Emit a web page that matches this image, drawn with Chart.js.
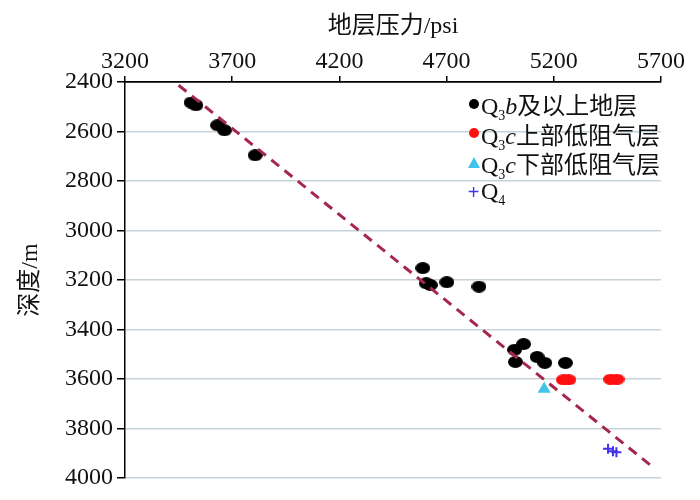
<!DOCTYPE html>
<html>
<head>
<meta charset="utf-8">
<title>地层压力与深度</title>
<script src="https://cdn.jsdelivr.net/npm/chart.js@4.4.0/dist/chart.umd.min.js"></script>
<style>
  html, body { margin: 0; padding: 0; background: #fff; }
  #wrap { position: relative; width: 700px; height: 500px; }
  #legend {
    position: absolute; left: 466px; top: 89px;
    font-family: 'Liberation Serif', 'Noto Sans CJK SC', serif;
    font-size: 24px; color: #111;
  }
  #legend .row { height: 29.4px; display: flex; align-items: center; white-space: nowrap; }
  #legend sub { font-size: 14px; vertical-align: -6px; line-height: 0; }
  #legend .mk { width: 15px; display: flex; justify-content: center; align-items: center; }
  .dot { width: 10px; height: 10px; border-radius: 50%; }
  .tri { width: 0; height: 0; border-left: 6.5px solid transparent; border-right: 6.5px solid transparent; border-bottom: 11px solid #40c4ea; }
  .plus { font-family: 'Liberation Sans', sans-serif; font-size: 20px; color: #4433ee; line-height: 1; }
</style>
</head>
<body>
<div id="wrap">
  <canvas id="pressureChart"></canvas>
  <div id="legend"></div>
</div>
<script>
// 地层压力 (psi) / 深度 (m)
const q3bPressure = [3508, 3531, 3632, 3664, 3807, 4589, 4605, 4624, 4701, 4851, 5017, 5059, 5021, 5122, 5158, 5254];
const q3bDepth    = [2483, 2494, 2575, 2595, 2696, 3152, 3213, 3220, 3209, 3227, 3482, 3459, 3531, 3511, 3535, 3535];
const q3cUpPressure = [5245, 5270, 5465, 5495];
const q3cUpDepth    = [3603, 3603, 3601, 3601];
const q3cLowPressure = [5155];
const q3cLowDepth    = [3640];
const q4Pressure = [5453, 5476, 5492];
const q4Depth    = [3882, 3892, 3896];
const trendPressure = [3450, 5665];
const trendDepth    = [2413, 3958];

const xTicks = [3200, 3700, 4200, 4700, 5200, 5700];
const yTicks = [2400, 2600, 2800, 3000, 3200, 3400, 3600, 3800, 4000];

const seriesNames = ['Q3b及以上地层', 'Q3c上部低阻气层', 'Q3c下部低阻气层', 'Q4'];
const legendHtml = ['Q<sub>3</sub><i>b</i>及以上地层', 'Q<sub>3</sub><i>c</i>上部低阻气层', 'Q<sub>3</sub><i>c</i>下部低阻气层', 'Q<sub>4</sub>'];

const pts = (xs, ys) => xs.map((x, i) => ({ x: x, y: ys[i] }));

// elliptical blobs like in the original figure
function blob(color, w, h) {
    const c = document.createElement('canvas');
    c.width = w; c.height = h;
    const g = c.getContext('2d');
    g.fillStyle = color;
    g.beginPath();
    g.ellipse(w / 2, h / 2, w / 2, h / 2, 0, 0, Math.PI * 2);
    g.fill();
    return c;
}

const tickFont = { family: "'Liberation Serif', 'Noto Sans CJK SC'", size: 24 };

const ctx = document.getElementById('pressureChart').getContext('2d');
const pressureChart = new Chart(ctx, {
    type: 'scatter',
    data: {
        datasets: [{
            label: '趋势线',
            data: pts(trendPressure, trendDepth),
            showLine: true,
            borderColor: '#a5274b',
            borderWidth: 3,
            borderDash: [10, 7],
            pointRadius: 0,
            order: -1
        }, {
            label: seriesNames[0],
            data: pts(q3bPressure, q3bDepth),
            pointStyle: blob('#000', 15, 12),
            backgroundColor: '#000'
        }, {
            label: seriesNames[1],
            data: pts(q3cUpPressure, q3cUpDepth),
            pointStyle: blob('#ff1010', 15, 11),
            backgroundColor: '#ff1010'
        }, {
            label: seriesNames[2],
            data: pts(q3cLowPressure, q3cLowDepth),
            pointStyle: 'triangle',
            pointRadius: 7.5,
            backgroundColor: '#40c4ea',
            borderWidth: 0
        }, {
            label: seriesNames[3],
            data: pts(q4Pressure, q4Depth),
            pointStyle: 'cross',
            pointRadius: 5,
            borderColor: '#4433ee',
            borderWidth: 2
        }]
    },
    options: {
        responsive: true,
        maintainAspectRatio: false,
        animation: false,
        layout: { padding: { left: 0, right: 39, top: 0, bottom: 22 } },
        scales: {
            x: {
                type: 'linear',
                position: 'top',
                min: 3200,
                max: 5700,
                afterBuildTicks: s => { s.ticks = xTicks.map(v => ({ value: v })); },
                afterFit: s => { s.height = 82; },
                ticks: { color: '#111', font: tickFont, padding: 0, maxRotation: 0, callback: v => String(v) },
                grid: { drawOnChartArea: false, color: '#000', tickLength: 6, lineWidth: 1.5 },
                border: { color: '#000', width: 1.5 },
                title: {
                    display: true,
                    text: '地层压力/psi',
                    color: '#111',
                    font: tickFont,
                    padding: { top: 12, bottom: 0 }
                }
            },
            y: {
                type: 'linear',
                reverse: true,
                min: 2400,
                max: 4000,
                afterBuildTicks: s => { s.ticks = yTicks.map(v => ({ value: v })); },
                afterFit: s => { s.width = 125; },
                ticks: { color: '#111', font: tickFont, padding: 4, callback: v => String(v) },
                grid: {
                    color: c => (c.tick && c.tick.value === 2400) ? '#000' : '#c8d2d9',
                    lineWidth: 1.5,
                    tickColor: '#000',
                    tickLength: 8
                },
                border: { color: '#000', width: 1.5 },
                title: {
                    display: true,
                    text: '深度/m',
                    color: '#111',
                    font: tickFont,
                    padding: { top: 16, bottom: 0 }
                }
            }
        },
        plugins: {
            legend: { display: false },
            tooltip: { enabled: false }
        }
    }
});

// legend with subscripts / italics, built from the series list
const markers = ['<div class="dot" style="background:#000"></div>',
                 '<div class="dot" style="background:#ff1010"></div>',
                 '<div class="tri"></div>',
                 '<div class="plus">+</div>'];
document.getElementById('legend').innerHTML = legendHtml.map((t, i) =>
    '<div class="row" title="' + seriesNames[i] + '"><span class="mk">' + markers[i] + '</span><span>' + t + '</span></div>'
).join('');
</script>
</body>
</html>
